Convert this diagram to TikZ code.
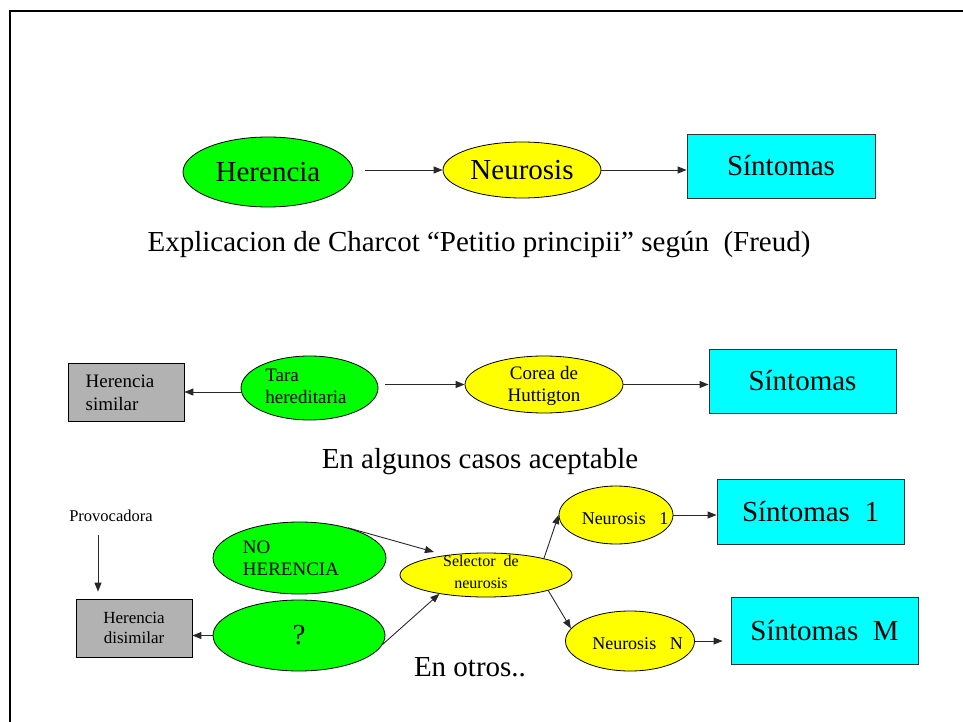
\documentclass[tikz,border=0pt]{standalone}
\usepackage{fontspec}
\setmainfont{Liberation Serif}
\usetikzlibrary{shapes.geometric,arrows.meta}
\definecolor{gr}{RGB}{0,255,0}
\definecolor{ye}{RGB}{255,255,0}
\definecolor{cy}{RGB}{0,255,255}
\definecolor{gy}{RGB}{178,178,178}
\definecolor{ln}{RGB}{40,40,40}
\begin{document}
\begin{tikzpicture}[x=1pt,y=-1pt,
 ell/.style={ellipse,draw=black,line width=0.8pt,inner sep=0pt},
 gell/.style={ell,fill=gr},
 yell/.style={ell,fill=ye},
 cbox/.style={rectangle,draw=black!80,line width=0.8pt,fill=cy,inner sep=0pt},
 gbox/.style={rectangle,draw=black,line width=0.8pt,fill=gy,inner sep=0pt},
 big/.style={font=\fontsize{29}{33}\selectfont},
 small/.style={font=\fontsize{19}{22}\selectfont},
 arr/.style={draw=ln,line width=0.9pt,-{Triangle[length=9pt,width=7pt]}},
]
\useasboundingbox (0,0) rectangle (963,722);
\draw[line width=2.3pt] (10,724) -- (10,11) -- (965,11);

% Row 1
\node[gell,minimum width=170pt,minimum height=70pt,big] (her) at (268,172) {Herencia};
\node[yell,minimum width=158pt,minimum height=56pt,big] (neu) at (522,170) {Neurosis};
\node[cbox,minimum width=188pt,minimum height=64pt,big] (sin) at (781,166) {Síntomas};
\draw[arr,shorten <=12pt] (neu.west -| her.east) -- (neu.west);
\draw[arr] (neu.east) -- (neu.east -| sin.west);
\node[big] (cap1) at (479,245) {Explicacion de Charcot “Petitio principii” según\ \ (Freud)};

% Row 2
\node[gbox,minimum width=116pt,minimum height=58pt] (hs) at (126,392) {};
\node[small,align=left,font=\fontsize{19}{23}\selectfont] (hst) at (120,393) {Herencia\\similar};
\node[gell,minimum width=137pt,minimum height=64pt] (tara) at (309.5,388) {};
\node[small,align=left] (tarat) at (306,386) {Tara\\hereditaria};
\node[yell,minimum width=158pt,minimum height=57pt] (cor) at (544,384.5) {};
\node[small,align=center] (cort) at (544,386) {Corea de\\Huttigton};
\node[cbox,minimum width=187pt,minimum height=64pt,big] (sin2) at (802.5,381) {Síntomas};
\draw[arr] (hs.east -| tara.west) -- (hs.east);
\draw[arr,shorten <=7pt] (tara.east |- cor.west) -- (cor.west);
\draw[arr] (cor.east) -- (cor.east -| sin2.west);
\node[big] (cap2) at (480,462) {En algunos casos aceptable};

% Row 3
\node[font=\fontsize{16.5}{20}\selectfont] (prov) at (111,516) {Provocadora};
\node[gbox,minimum width=116pt,minimum height=58pt,font=\fontsize{17}{20}\selectfont,align=center] (hd) at (134,628) {Herencia\\disimilar};
\coordinate (pa) at (98,535);
\draw[arr,shorten >=7pt] (pa) -- (pa |- hd.north);

\node[gell,minimum width=173pt,minimum height=72pt] (no) at (299.5,558) {};
\node[small,align=left] (not) at (291,558) {NO\\HERENCIA};
\node[gell,minimum width=172pt,minimum height=71pt,big] (q) at (299,635.5) {?};
\draw[arr] (q.west) -- (q.west -| hd.east);

\node[yell,minimum width=172pt,minimum height=44pt] (sel) at (486,575) {};
\node[font=\fontsize{16}{22}\selectfont,align=center] (selt) at (481,572) {Selector\ \ de\\neurosis};
\node[yell,minimum width=114pt,minimum height=58pt] (n1) at (616,515) {};
\node[font=\fontsize{18}{22}\selectfont] (n1t) at (625,519) {Neurosis\ \ \ 1};
\node[yell,minimum width=129pt,minimum height=60pt] (nn) at (630,641) {};
\node[font=\fontsize{18}{22}\selectfont] (nnt) at (637.5,644) {Neurosis\ \ \ N};
\node[cbox,minimum width=187pt,minimum height=65pt,big] (s1) at (810.5,511.5) {Síntomas\ \ 1};
\node[cbox,minimum width=187pt,minimum height=67pt,big] (sm) at (824.5,630.5) {Síntomas\ \ M};

\draw[arr,shorten >=12pt] (no.32) -- (sel.154);
\draw[arr] (q.-6) -- (sel.202);
\draw[arr] (sel.16) -- (n1.west);
\draw[arr] (sel.-14) -- (nn.168);
\draw[arr] (n1.east) -- (n1.east -| s1.west);
\draw[arr,shorten >=8pt] (nn.east) -- (nn.east -| sm.west);
\node[big] (cap3) at (470,667) {En otros..};
\end{tikzpicture}
\end{document}
